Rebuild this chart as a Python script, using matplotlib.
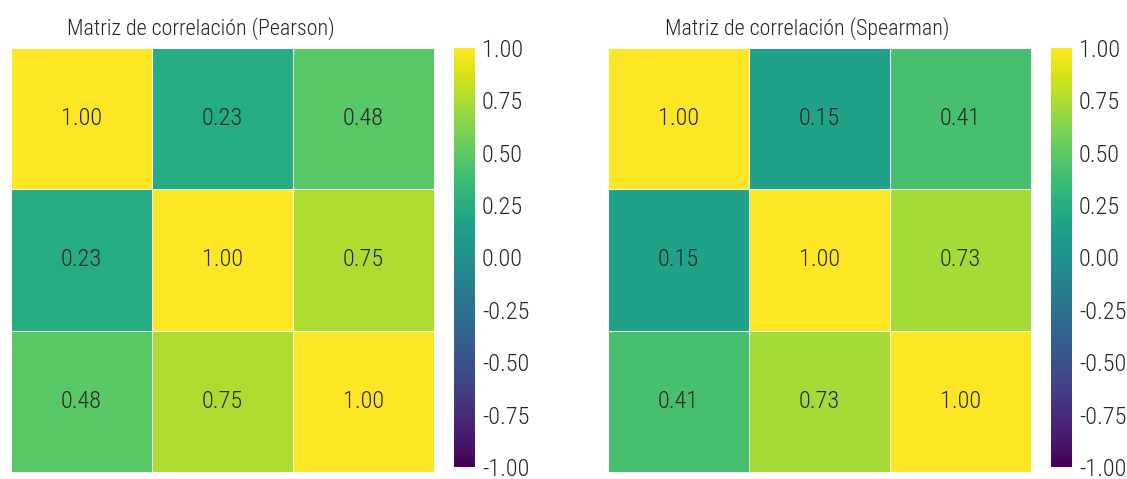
import numpy as np
import matplotlib
matplotlib.use("Agg")
import matplotlib.pyplot as plt
from matplotlib import font_manager
import seaborn as sns

# Correlation matrices for three variables
pearson = [[1.00, 0.23, 0.48],
           [0.23, 1.00, 0.75],
           [0.48, 0.75, 1.00]]
spearman = [[1.00, 0.15, 0.41],
            [0.15, 1.00, 0.73],
            [0.41, 0.73, 1.00]]
titles = ["Matriz de correlación (Pearson)", "Matriz de correlación (Spearman)"]
cbar_ticks = [-1.00, -0.75, -0.50, -0.25, 0.00, 0.25, 0.50, 0.75, 1.00]

# Prefer a narrow sans-serif
available = {f.name for f in font_manager.fontManager.ttflist}
family = "DejaVu Sans"
for cand in ["Roboto Condensed", "Liberation Sans Narrow", "Roboto"]:
    if cand in available:
        family = cand
        break
plt.rcParams["font.family"] = family
plt.rcParams["font.weight"] = "light"
text_color = "#262626"

fig = plt.figure(figsize=(11.27, 4.79), dpi=100)
W, H = 1127, 479

def box(x0, y0, x1, y1):
    return [x0 / W, 1 - y1 / H, (x1 - x0) / W, (y1 - y0) / H]

layout = [((11, 48, 434, 472), (454, 48, 475, 467), 67),
          ((608, 48, 1031, 472), (1051, 48, 1072, 467), 665)]

for mat, title, (hbox, cbox, tx) in zip([pearson, spearman], titles, layout):
    ax = fig.add_axes(box(*hbox))
    cax = fig.add_axes(box(*cbox))
    sns.heatmap(np.array(mat), ax=ax, cbar_ax=cax, cmap="viridis", vmin=-1, vmax=1,
                annot=True, fmt=".2f", linewidths=0.6, linecolor="white",
                annot_kws={"fontsize": 17.5, "color": text_color, "fontweight": "light"},
                cbar_kws={"ticks": cbar_ticks})
    ax.set_xticks([])
    ax.set_yticks([])
    fig.text(tx / W, 1 - 29 / H, title, fontsize=15.8, color=text_color,
             ha="left", va="center", fontweight="light")
    cax.tick_params(length=0, labelsize=17.5, labelcolor=text_color, pad=5)
    cax.set_yticklabels([f"{t:.2f}" for t in cbar_ticks], fontweight="light")
    cax.set_frame_on(False)

fig.savefig("out.png", dpi=100)
